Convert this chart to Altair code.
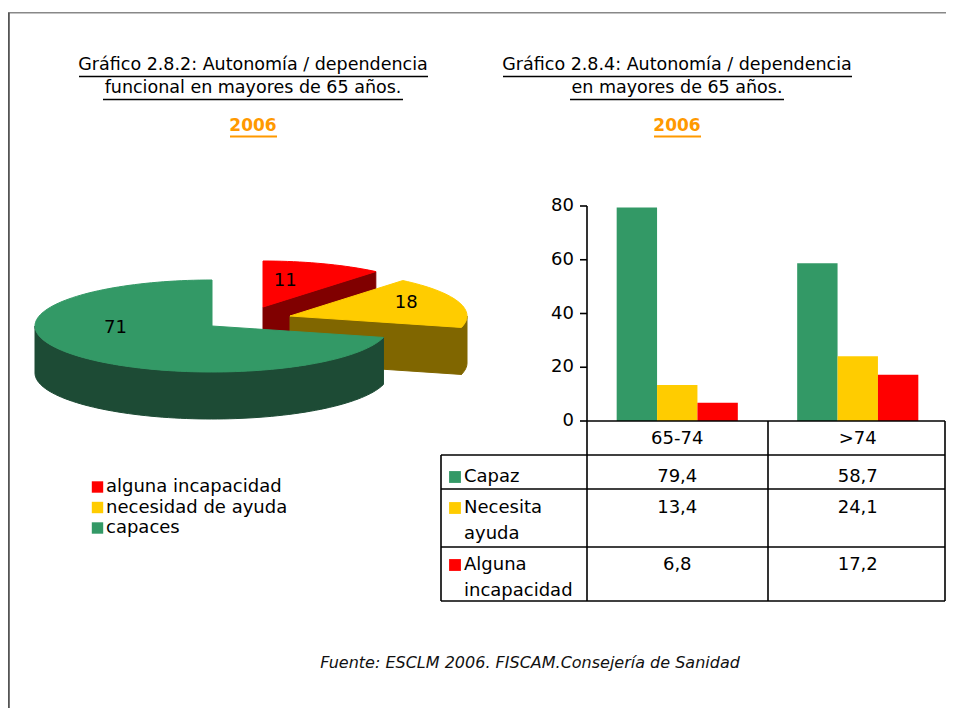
import altair as alt
import numpy as np
import pandas as pd

# ---------------- data ----------------
PIE_CATEGORIES = ["alguna incapacidad", "necesidad de ayuda", "capaces"]
PIE_VALUES = [11, 18, 71]

AGE_GROUPS = ["65-74", ">74"]
BAR_SERIES = ["Capaz", "Necesita ayuda", "Alguna incapacidad"]
CAPAZ = [79.4, 58.7]
NECESITA_AYUDA = [13.4, 24.1]
ALGUNA_INCAPACIDAD = [6.8, 17.2]
Y_TICKS = [0, 20, 40, 60, 80]

TITLE_LEFT = ["Gráfico 2.8.2: Autonomía / dependencia", "funcional en mayores de 65 años."]
TITLE_RIGHT = ["Gráfico 2.8.4: Autonomía / dependencia", "en mayores de 65 años."]
YEAR = "2006"
SOURCE = "Fuente: ESCLM 2006. FISCAM.Consejería de Sanidad"

# ---------------- style / layout ----------------
FONT = "DejaVu Sans"
PIE_TOP = ["#FF0000", "#FFCC00", "#339966"]
PIE_SIDE = ["#800000", "#806600", "#1D4B35"]
BAR_COLORS = ["#339966", "#FFCC00", "#FF0000"]
ORANGE = "#FF9900"

W, H, M = 938, 700, 8


def px(v):
    return v - M


# pie geometry (page pixels)
PIE_CX, PIE_CY, PIE_RX, PIE_RY, PIE_DEPTH = 212, 326, 177, 46, 47
EXPLODE = [(51, -19), (78, -10), (0, 0)]
LABEL_R = [0.37, 0.69, 0.69]
LABEL_DY = [-10, -3, -17]

PIE_XS = alt.Scale(domain=[-1, 1], range=[px(PIE_CX - PIE_RX), px(PIE_CX + PIE_RX)], nice=False, zero=False)
PIE_YS = alt.Scale(domain=[-1, 1], range=[px(PIE_CY + PIE_RY), px(PIE_CY - PIE_RY)], nice=False, zero=False)

BAR_X_RANGE = [px(587), px(948)]
BAR_YS = alt.Scale(domain=[0, 80], range=[px(421), px(206)], nice=False, zero=True)
TABLE_RIGHT = 945

DUMMY = pd.DataFrame({"a": [0]})
layers = []


def text_layer(txt, x, y, size=18, weight="normal", color="black", align="center",
               baseline="middle", style="normal"):
    return alt.Chart(pd.DataFrame({"t": [txt]})).mark_text(
        font=FONT, fontSize=size, fontWeight=weight, color=color, align=align,
        baseline=baseline, fontStyle=style
    ).encode(text="t:N", x=alt.value(px(x)), y=alt.value(px(y)))


def hline(x1, x2, y, color="black", width=1.6):
    return alt.Chart(DUMMY).mark_rule(color=color, strokeWidth=width).encode(
        x=alt.value(px(x1)), x2=alt.value(px(x2)), y=alt.value(px(y)))


def vline(x, y1, y2, color="black", width=1.6):
    return alt.Chart(DUMMY).mark_rule(color=color, strokeWidth=width).encode(
        x=alt.value(px(x)), y=alt.value(px(y1)), y2=alt.value(px(y2)))


# ---------------- frame ----------------
layers.append(alt.Chart(DUMMY).mark_rule(color="#888888", strokeWidth=1.5).encode(
    x=alt.value(0), x2=alt.value(W), y=alt.value(4.8)))
layers.append(alt.Chart(DUMMY).mark_rule(color="#555555", strokeWidth=2).encode(
    x=alt.value(0.8), y=alt.value(4.8), y2=alt.value(H)))

# ---------------- titles ----------------
TSIZE = 17.5
layers.append(text_layer(TITLE_LEFT[0], 253, 65, size=TSIZE))
layers.append(text_layer(TITLE_LEFT[1], 253, 88, size=TSIZE))
layers.append(text_layer(YEAR, 253, 126, size=17, weight="bold", color=ORANGE))
layers.append(text_layer(TITLE_RIGHT[0], 677, 65, size=TSIZE))
layers.append(text_layer(TITLE_RIGHT[1], 677, 88, size=TSIZE))
layers.append(text_layer(YEAR, 677, 126, size=17, weight="bold", color=ORANGE))
# underlines
layers.append(hline(79, 428, 76.5, width=1.4))
layers.append(hline(103, 403, 99.5, width=1.4))
layers.append(hline(230, 277, 136.5, color=ORANGE, width=2))
layers.append(hline(503, 852, 76.5, width=1.4))
layers.append(hline(570, 784, 99.5, width=1.4))
layers.append(hline(654, 701, 136.5, color=ORANGE, width=2))

# ---------------- 3D pie ----------------
total = float(sum(PIE_VALUES))
bounds = np.concatenate([[0.0], np.cumsum(PIE_VALUES)]) / total * 360.0
DROP = PIE_DEPTH / PIE_RY

slices = []
for k in range(len(PIE_VALUES)):
    s, e = bounds[k], bounds[k + 1]
    ox = EXPLODE[k][0] / PIE_RX
    oy = -EXPLODE[k][1] / PIE_RY

    def rim(t, drop=0.0, ox=ox, oy=oy):
        r = np.radians(t)
        return (ox + np.sin(r), oy + np.cos(r) - drop)

    faces = []
    lo, hi = max(s, 90.0), min(e, 270.0)
    if hi > lo:
        ts = np.linspace(lo, hi, max(3, int((hi - lo) / 2) + 2))
        pts = [rim(t) for t in ts] + [rim(t, DROP) for t in ts[::-1]]
        pts.append(pts[0])
        faces.append((PIE_SIDE[k], pts))
    for ang, visible in ((s, np.sin(np.radians(s)) < -1e-6), (e, np.sin(np.radians(e)) > 1e-6)):
        if visible:
            pts = [(ox, oy), rim(ang), rim(ang, DROP), (ox, oy - DROP), (ox, oy)]
            faces.append((PIE_SIDE[k], pts))
    ts = np.linspace(s, e, max(3, int((e - s) / 2) + 2))
    pts = [(ox, oy)] + [rim(t) for t in ts] + [(ox, oy)]
    faces.append((PIE_TOP[k], pts))
    mid = (s + e) / 2.0
    slices.append((np.cos(np.radians(mid)), k, faces, ox, oy, mid))

slices.sort(key=lambda z: -z[0])
for _, k, faces, ox, oy, mid in slices:
    for color, pts in faces:
        df = pd.DataFrame({"x": [p[0] for p in pts], "y": [p[1] for p in pts], "i": list(range(len(pts)))})
        layers.append(alt.Chart(df).mark_line(fill=color, stroke=color, strokeWidth=1).encode(
            x=alt.X("x:Q", scale=PIE_XS, axis=None),
            y=alt.Y("y:Q", scale=PIE_YS, axis=None),
            order=alt.Order("i:Q"),
        ))

for _, k, faces, ox, oy, mid in slices:
    r = LABEL_R[k]
    df = pd.DataFrame({"x": [ox + r * np.sin(np.radians(mid))],
                       "y": [oy + r * np.cos(np.radians(mid))],
                       "t": [str(PIE_VALUES[k])]})
    layers.append(alt.Chart(df).mark_text(font=FONT, fontSize=18, color="black", dy=LABEL_DY[k]).encode(
        x=alt.X("x:Q", scale=PIE_XS, axis=None),
        y=alt.Y("y:Q", scale=PIE_YS, axis=None),
        text="t:N"))

# pie legend
leg = pd.DataFrame({"cat": PIE_CATEGORIES, "k": list(range(len(PIE_CATEGORIES))), "col": PIE_TOP})
LEG_YS = alt.Scale(domain=[0, len(PIE_CATEGORIES) - 1], range=[px(487), px(528)], nice=False, zero=False)
layers.append(alt.Chart(leg).mark_square(size=130, opacity=1, filled=True).encode(
    x=alt.value(px(97.5)), y=alt.Y("k:Q", scale=LEG_YS, axis=None),
    color=alt.Color("col:N", scale=None)))
layers.append(alt.Chart(leg).mark_text(font=FONT, fontSize=18, align="left", baseline="middle", color="black").encode(
    x=alt.value(px(106)), y=alt.Y("k:Q", scale=LEG_YS, axis=None), text="cat:N"))

# ---------------- bar chart ----------------
bar_df = pd.DataFrame({
    "age": AGE_GROUPS * 3,
    "series": [s for s in BAR_SERIES for _ in AGE_GROUPS],
    "value": CAPAZ + NECESITA_AYUDA + ALGUNA_INCAPACIDAD,
})
layers.append(alt.Chart(bar_df).mark_bar().encode(
    x=alt.X("age:N", sort=AGE_GROUPS, axis=None,
            scale=alt.Scale(domain=AGE_GROUPS, range=BAR_X_RANGE, paddingInner=0, paddingOuter=0)),
    xOffset=alt.XOffset("series:N", sort=BAR_SERIES,
                        scale=alt.Scale(domain=BAR_SERIES, paddingInner=0, paddingOuter=0.735)),
    y=alt.Y("value:Q", scale=BAR_YS, axis=None),
    color=alt.Color("series:N", scale=alt.Scale(domain=BAR_SERIES, range=BAR_COLORS), legend=None),
))

tick_df = pd.DataFrame({"v": Y_TICKS, "t": [str(v) for v in Y_TICKS]})
layers.append(alt.Chart(tick_df).mark_rule(color="black", strokeWidth=1.6).encode(
    y=alt.Y("v:Q", scale=BAR_YS, axis=None), x=alt.value(px(580)), x2=alt.value(px(587))))
layers.append(alt.Chart(tick_df).mark_text(font=FONT, fontSize=18, align="right", baseline="middle", color="black").encode(
    y=alt.Y("v:Q", scale=BAR_YS, axis=None), x=alt.value(px(574)), text="t:N"))

# ---------------- data table ----------------
for y, x1, x2 in [(421, 587, TABLE_RIGHT), (455, 441, TABLE_RIGHT), (489, 441, TABLE_RIGHT),
                  (547, 441, TABLE_RIGHT), (601, 441, TABLE_RIGHT)]:
    layers.append(hline(x1, x2, y))
for x, y1, y2 in [(441, 455, 601), (587, 206, 601), (768, 421, 601), (TABLE_RIGHT, 421, 601)]:
    layers.append(vline(x, y1, y2))

TXT_XS = alt.Scale(type="point", domain=AGE_GROUPS, range=BAR_X_RANGE, padding=0.5)
layers.append(alt.Chart(pd.DataFrame({"age": AGE_GROUPS})).mark_text(
    font=FONT, fontSize=18, baseline="middle", color="black").encode(
    x=alt.X("age:N", scale=TXT_XS, axis=None, sort=AGE_GROUPS), y=alt.value(px(439)), text="age:N"))

ROW_FIRST_LINE = [476, 507, 564]
series_values = [CAPAZ, NECESITA_AYUDA, ALGUNA_INCAPACIDAD]
for j, name in enumerate(BAR_SERIES):
    yc = ROW_FIRST_LINE[j]
    label = name.replace(" ", "\n", 1)
    layers.append(alt.Chart(pd.DataFrame({"c": [BAR_COLORS[j]]})).mark_square(size=140, opacity=1, filled=True).encode(
        x=alt.value(px(455)), y=alt.value(px(yc + 1)), color=alt.Color("c:N", scale=None)))
    layers.append(alt.Chart(pd.DataFrame({"t": [label]})).mark_text(
        font=FONT, fontSize=18, align="left", baseline="top", lineBreak="\n", lineHeight=26, color="black").encode(
        x=alt.value(px(464)), y=alt.value(px(yc - 8)), text="t:N"))
    vdf = pd.DataFrame({"age": AGE_GROUPS,
                        "t": [f"{v:.1f}".replace(".", ",") for v in series_values[j]]})
    layers.append(alt.Chart(vdf).mark_text(font=FONT, fontSize=18, baseline="top", color="black").encode(
        x=alt.X("age:N", scale=TXT_XS, axis=None, sort=AGE_GROUPS), y=alt.value(px(yc - 8)), text="t:N"))

# ---------------- source ----------------
layers.append(text_layer(SOURCE, 530, 663, size=16, style="italic", color="#111111"))

chart = alt.layer(*layers).resolve_scale(
    x="independent", y="independent", color="independent"
).properties(
    width=W, height=H, padding=0, background="white",
    autosize=alt.AutoSizeParams(type="none"),
).configure_view(stroke=None)

chart.save("out.html", embed_options={"renderer": "svg", "actions": False})
